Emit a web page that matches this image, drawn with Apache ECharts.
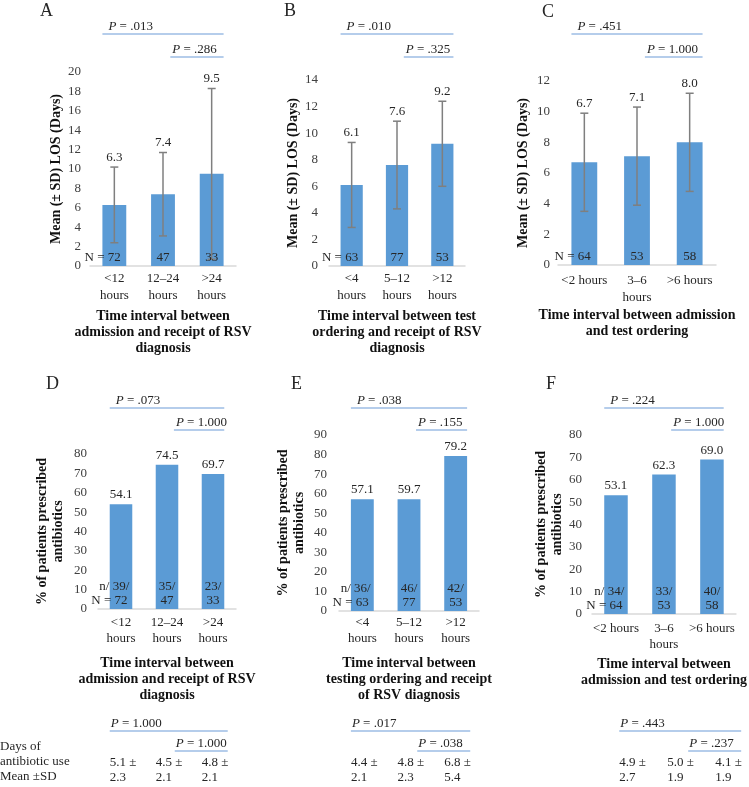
<!DOCTYPE html>
<html><head><meta charset="utf-8">
<script src="https://cdn.jsdelivr.net/npm/echarts@6/dist/echarts.min.js"></script>
<style>html,body{margin:0;padding:0;background:#fff}#c{width:749px;height:787px}</style>
</head><body><div id="c"></div>
<script>
// ---------------- data ----------------
const catsA = ['<12\nhours', '12–24\nhours', '>24\nhours'];
const meanA = [6.3, 7.4, 9.5];
const sdA = [3.9, 4.3, 8.8];
const nA = [72, 47, 33];
const pA = ['.013', '.286'];

const catsB = ['<4\nhours', '5–12\nhours', '>12\nhours'];
const meanB = [6.1, 7.6, 9.2];
const sdB = [3.2, 3.3, 3.2];
const nB = [63, 77, 53];
const pB = ['.010', '.325'];

const catsC = ['<2 hours', '3–6\nhours', '>6 hours'];
const meanC = [6.7, 7.1, 8.0];
const sdC = [3.2, 3.2, 3.2];
const nC = [64, 53, 58];
const pC = ['.451', '1.000'];

const catsD = ['<12\nhours', '12–24\nhours', '>24\nhours'];
const pctD = [54.1, 74.5, 69.7];
const pctLabelD = ['54.1', '74.5', '69.7'];
const abxD = [39, 35, 23];
const nD = [72, 47, 33];
const pD = ['.073', '1.000'];
const daysMeanD = ['5.1', '4.5', '4.8'];
const daysSdD = ['2.3', '2.1', '2.1'];
const daysPD = ['1.000', '1.000'];

const catsE = ['<4\nhours', '5–12\nhours', '>12\nhours'];
const pctE = [57.1, 57.1, 79.2];
const pctLabelE = ['57.1', '59.7', '79.2'];
const abxE = [36, 46, 42];
const nE = [63, 77, 53];
const pE = ['.038', '.155'];
const daysMeanE = ['4.4', '4.8', '6.8'];
const daysSdE = ['2.1', '2.3', '5.4'];
const daysPE = ['.017', '.038'];

const catsF = ['<2 hours', '3–6\nhours', '>6 hours'];
const pctF = [53.1, 62.3, 69.0];
const pctLabelF = ['53.1', '62.3', '69.0'];
const abxF = [34, 33, 40];
const nF = [64, 53, 58];
const pF = ['.224', '1.000'];
const daysMeanF = ['4.9', '5.0', '4.1'];
const daysSdF = ['2.7', '1.9', '1.9'];
const daysPF = ['.443', '.237'];

const panelLetters = ['A', 'B', 'C', 'D', 'E', 'F'];
const tableRowLabels = ['Days of', 'antibiotic use', 'Mean ±SD'];

// ---------------- style / layout ----------------
const SERIF = '"Liberation Serif", "DejaVu Serif", serif';
const TXT = '#262626';
const BAR = '#5B9BD5';
const ERR = '#7F7F7F';
const PLINE = '#9DBDE4';
const AXIS = '#D9D9D9';
const FS = 13;

const mctx = document.createElement('canvas').getContext('2d');
function tw(t, size) { mctx.font = (size || FS) + 'px ' + SERIF; return mctx.measureText(t).width; }

const panels = [
  { cats: catsA, vals: meanA, sd: sdA, n: nA, p: pA, max: 20, interval: 2,
    grid: { left: 90, top: 72, width: 146, height: 194 },
    yName: 'Mean (± SD) LOS (Days)', yGap: 25, yLabMargin: 9,
    xName: 'Time interval between\nadmission and receipt of RSV\ndiagnosis', xGap: 42,
    labMargin: 4, labLH: 17, pRows: [34, 57], letter: [47, 12] },
  { cats: catsB, vals: meanB, sd: sdB, n: nB, p: pB, max: 14, interval: 2,
    grid: { left: 329, top: 80, width: 136, height: 186 },
    yName: 'Mean (± SD) LOS (Days)', yGap: 28, yLabMargin: 11,
    xName: 'Time interval between test\nordering and receipt of RSV\ndiagnosis', xGap: 42,
    labMargin: 4, labLH: 17, pRows: [34, 57], letter: [291, 12] },
  { cats: catsC, vals: meanC, sd: sdC, n: nC, p: pC, max: 12, interval: 2,
    grid: { left: 558, top: 81, width: 158, height: 184 },
    yName: 'Mean (± SD) LOS (Days)', yGap: 27, yLabMargin: 8,
    xName: 'Time interval between admission\nand test ordering', xGap: 42,
    labMargin: 7, labLH: 17, pRows: [34, 57], letter: [549, 13] },
  { cats: catsD, vals: pctD, labels: pctLabelD, abx: abxD, n: nD, p: pD, max: 80, interval: 10,
    grid: { left: 98, top: 454, width: 138, height: 155 },
    yName: '% of patients prescribed\nantibiotics', yGap: 32, yLabMargin: 11,
    xName: 'Time interval between\nadmission and receipt of RSV\ndiagnosis', xGap: 46,
    labMargin: 6, labLH: 16, pRows: [408, 430], letter: [53, 385],
    days: daysMeanD, daysSd: daysSdD, daysP: daysPD, tableShift: 0 },
  { cats: catsE, vals: pctE, labels: pctLabelE, abx: abxE, n: nE, p: pE, max: 90, interval: 10,
    grid: { left: 339, top: 435, width: 140, height: 176 },
    yName: '% of patients prescribed\nantibiotics', yGap: 32, yLabMargin: 12,
    xName: 'Time interval between\ntesting ordering and receipt\nof RSV diagnosis', xGap: 44,
    labMargin: 4, labLH: 16, pRows: [408, 430], letter: [298, 385],
    days: daysMeanE, daysSd: daysSdE, daysP: daysPE, tableShift: 0 },
  { cats: catsF, vals: pctF, labels: pctLabelF, abx: abxF, n: nF, p: pF, max: 80, interval: 10,
    grid: { left: 592, top: 435, width: 145, height: 179 },
    yName: '% of patients prescribed\nantibiotics', yGap: 27, yLabMargin: 10,
    xName: 'Time interval between\nadmission and test ordering', xGap: 42,
    labMargin: 7, labLH: 16, pRows: [408, 430], letter: [553, 385],
    days: daysMeanF, daysSd: daysSdF, daysP: daysPF, tableShift: 15 }
];
const TABLE_P_ROWS = [731, 751];
const TABLE_ROWS_Y = [748, 763, 778];
const BAR_FRAC = 0.49;

function pText(label) { return '{i|P} = ' + label; }
const pRich = { i: { fontStyle: 'italic', fontFamily: SERIF, fontSize: FS, fill: TXT } };

function textEl(text, x, y, align, vAlign, extra) {
  return { type: 'text', style: Object.assign({ text, x, y, align, verticalAlign: vAlign,
    fontFamily: SERIF, fontSize: FS, fill: TXT }, extra || {}) };
}

// error bars + value labels + N labels for top panels
function errRender(P) {
  return function (params, api) {
    const i = params.dataIndex;
    const m = P.vals[i], s = P.sd[i];
    const pT = api.coord([i, m + s]);
    const pB = api.coord([i, m - s]);
    const base = api.coord([i, 0]);
    const cap = 4;
    const st = { stroke: ERR, lineWidth: 1.5 };
    const num = String(P.n[i]);
    const ch = [
      { type: 'line', shape: { x1: pT[0], y1: pT[1], x2: pB[0], y2: pB[1] }, style: st },
      { type: 'line', shape: { x1: pT[0] - cap, y1: pT[1], x2: pT[0] + cap, y2: pT[1] }, style: st },
      { type: 'line', shape: { x1: pB[0] - cap, y1: pB[1], x2: pB[0] + cap, y2: pB[1] }, style: st },
      textEl(m.toFixed(1), pT[0], pT[1] - 3, 'center', 'bottom'),
      i === 0 ? textEl('N = ' + num, base[0] + tw(num) / 2, base[1] - 8, 'right', 'middle')
              : textEl(num, base[0], base[1] - 8, 'center', 'middle')
    ];
    return { type: 'group', children: ch };
  };
}

// n/N labels for bottom panels
function countRender(P) {
  return function (params, api) {
    const i = params.dataIndex;
    const base = api.coord([i, 0]);
    const lines = [
      { t: P.abx[i] + '/', pre: 'n/ ', dy: 22 },
      { t: String(P.n[i]), pre: 'N = ', dy: 8 }
    ];
    const ch = lines.map(L => i === 0
      ? textEl(L.pre + L.t, base[0] + tw(L.t) / 2, base[1] - L.dy, 'right', 'middle')
      : textEl(L.t, base[0], base[1] - L.dy, 'center', 'middle'));
    return { type: 'group', children: ch };
  };
}

// P-value brackets above panels
function bracketRender(P) {
  return function (params, api) {
    const k = params.dataIndex;
    const cw = api.size([1, 0])[0];
    const c0 = api.coord([0, 0])[0], c1 = api.coord([1, 0])[0], c2 = api.coord([2, 0])[0];
    const bw = cw * BAR_FRAC;
    const x2 = c2 + bw / 2;
    const x1 = k === 0 ? c0 - bw / 2 : c1 + 0.15 * cw;
    const y = P.pRows[k];
    return { type: 'group', children: [
      { type: 'line', shape: { x1, y1: y, x2, y2: y }, style: { stroke: PLINE, lineWidth: 1.5 } },
      textEl(pText(P.p[k]), x1 + (k === 0 ? 6 : 2), y - 1, 'left', 'bottom', { rich: pRich })
    ] };
  };
}

// antibiotic-days table below bottom panels
function tableRender(P) {
  return function (params, api) {
    const cw = api.size([1, 0])[0];
    const bw = cw * BAR_FRAC;
    const xs = [0, 1, 2].map(i => api.coord([i, 0])[0] - bw / 2 + P.tableShift);
    const ch = [];
    xs.forEach((x, i) => {
      ch.push(textEl(P.days[i] + ' ±', x, TABLE_ROWS_Y[1], 'left', 'middle'));
      ch.push(textEl(P.daysSd[i], x, TABLE_ROWS_Y[2], 'left', 'middle'));
    });
    const xEnd = xs[2] + 26;
    const starts = [xs[0], xs[2] - 27];
    starts.forEach((x1, k) => {
      const y = TABLE_P_ROWS[k];
      ch.push({ type: 'line', shape: { x1, y1: y, x2: xEnd, y2: y }, style: { stroke: PLINE, lineWidth: 1.5 } });
      ch.push(textEl(pText(P.daysP[k]), x1 + 1, y - 1, 'left', 'bottom', { rich: pRich }));
    });
    return { type: 'group', children: ch };
  };
}

const grid = [], xAxis = [], yAxis = [], series = [], graphic = [];
panels.forEach((P, k) => {
  grid.push(Object.assign({ containLabel: false }, P.grid));
  xAxis.push({
    type: 'category', gridIndex: k, data: P.cats,
    axisTick: { show: false },
    axisLine: { lineStyle: { color: AXIS, width: 1.5 } },
    axisLabel: { interval: 0, fontFamily: SERIF, fontSize: FS, color: TXT, lineHeight: P.labLH, margin: P.labMargin },
    name: P.xName, nameLocation: 'middle', nameGap: P.xGap,
    nameTextStyle: { fontFamily: SERIF, fontSize: 14, fontWeight: 'bold', color: '#111', lineHeight: 16 }
  });
  yAxis.push({
    type: 'value', gridIndex: k, min: 0, max: P.max, interval: P.interval,
    splitLine: { show: false }, axisLine: { show: false }, axisTick: { show: false },
    axisLabel: { fontFamily: SERIF, fontSize: FS, color: '#404040', margin: P.yLabMargin },
    name: P.yName, nameLocation: 'middle', nameGap: P.yGap, nameRotate: 90,
    nameTextStyle: { fontFamily: SERIF, fontSize: 14, fontWeight: 'bold', color: '#111', lineHeight: 16, align: 'center' }
  });
  const isTop = k < 3;
  series.push({
    type: 'bar', xAxisIndex: k, yAxisIndex: k, data: P.vals, barWidth: (BAR_FRAC * 100) + '%',
    itemStyle: { color: BAR }, silent: true,
    label: isTop ? { show: false } : {
      show: true, position: 'top', distance: 3, fontFamily: SERIF, fontSize: FS, color: TXT,
      formatter: p => P.labels[p.dataIndex]
    }
  });
  const idxData = P.vals.map((v, i) => [i, 0]);
  series.push({
    type: 'custom', xAxisIndex: k, yAxisIndex: k, data: idxData, z: 10, silent: true,
    renderItem: isTop ? errRender(P) : countRender(P)
  });
  series.push({
    type: 'custom', xAxisIndex: k, yAxisIndex: k, data: P.p.map((v, i) => [i, 0]), z: 10, silent: true,
    renderItem: bracketRender(P)
  });
  if (!isTop) {
    series.push({
      type: 'custom', xAxisIndex: k, yAxisIndex: k, data: [[0, 0]], z: 10, silent: true,
      renderItem: tableRender(P)
    });
  }
  graphic.push({ type: 'text', left: P.letter[0] - 7, top: P.letter[1] - 10,
    style: { text: panelLetters[k], fontFamily: SERIF, fontSize: 18, fill: TXT } });
});
tableRowLabels.forEach((t, i) => {
  graphic.push({ type: 'text', left: 0, top: TABLE_ROWS_Y[i] - 8,
    style: { text: t, fontFamily: SERIF, fontSize: FS, fill: TXT } });
});

const chart = echarts.init(document.getElementById('c'), null, { renderer: 'canvas' });
chart.setOption({ animation: false, backgroundColor: '#fff', grid, xAxis, yAxis, series, graphic });
</script>
</body></html>
